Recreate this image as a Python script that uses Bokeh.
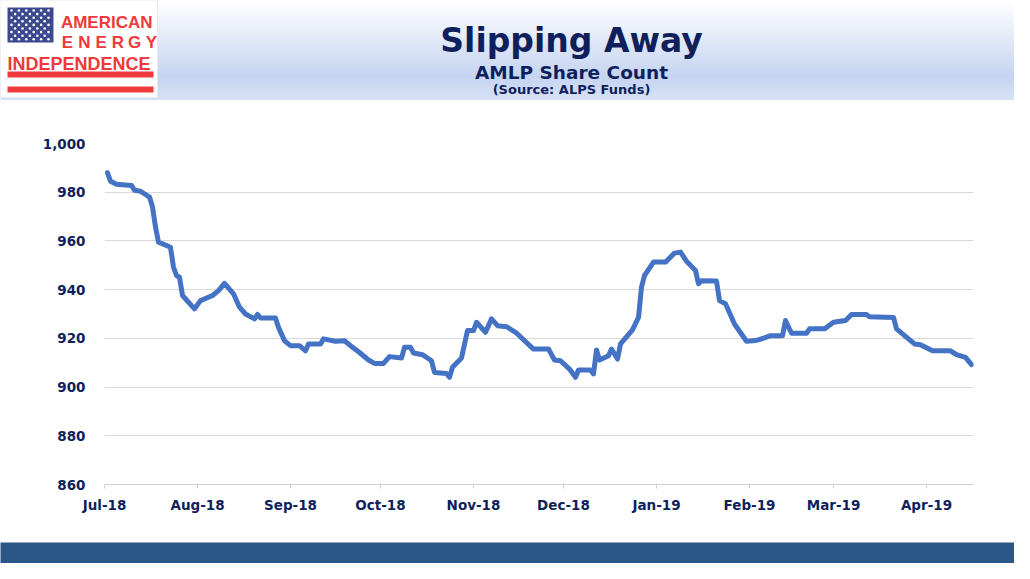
import numpy as np
import pandas as pd
from bokeh.plotting import figure
from bokeh.models import Range1d, NumeralTickFormatter, DatetimeTickFormatter, MonthsTicker, FixedTicker, ColumnDataSource
from bokeh.layouts import column
from bokeh.embed import file_html
from bokeh.resources import INLINE
from bokeh.core.properties import value

# ---------------- data ----------------
dates = [
    "2018-07-02", "2018-07-03", "2018-07-05", "2018-07-10", "2018-07-11", "2018-07-13",
    "2018-07-16", "2018-07-17", "2018-07-18", "2018-07-19", "2018-07-23", "2018-07-24",
    "2018-07-25", "2018-07-26", "2018-07-27", "2018-07-31", "2018-08-02", "2018-08-06",
    "2018-08-08", "2018-08-10", "2018-08-13", "2018-08-15", "2018-08-17", "2018-08-20",
    "2018-08-21", "2018-08-22", "2018-08-27", "2018-08-28", "2018-08-30", "2018-09-01",
    "2018-09-04", "2018-09-06", "2018-09-07", "2018-09-11", "2018-09-12", "2018-09-16",
    "2018-09-19", "2018-09-21", "2018-09-24", "2018-09-27", "2018-09-29", "2018-10-02",
    "2018-10-04", "2018-10-08", "2018-10-09", "2018-10-11", "2018-10-12", "2018-10-15",
    "2018-10-18", "2018-10-19", "2018-10-23", "2018-10-24", "2018-10-25", "2018-10-28",
    "2018-10-30", "2018-11-01", "2018-11-02", "2018-11-05", "2018-11-07", "2018-11-09",
    "2018-11-12", "2018-11-15", "2018-11-16", "2018-11-21", "2018-11-26", "2018-11-28",
    "2018-11-30", "2018-12-03", "2018-12-05", "2018-12-06", "2018-12-10", "2018-12-11",
    "2018-12-12", "2018-12-13", "2018-12-16", "2018-12-17", "2018-12-19", "2018-12-20",
    "2018-12-24", "2018-12-26", "2018-12-27", "2018-12-28", "2018-12-31", "2019-01-04",
    "2019-01-07", "2019-01-09", "2019-01-11", "2019-01-14", "2019-01-15", "2019-01-16",
    "2019-01-21", "2019-01-22", "2019-01-24", "2019-01-27", "2019-01-31", "2019-02-03",
    "2019-02-06", "2019-02-08", "2019-02-12", "2019-02-13", "2019-02-15", "2019-02-20",
    "2019-02-21", "2019-02-26", "2019-03-01", "2019-03-05", "2019-03-07", "2019-03-12",
    "2019-03-13", "2019-03-21", "2019-03-22", "2019-03-28", "2019-03-30", "2019-04-03",
    "2019-04-09", "2019-04-11", "2019-04-14", "2019-04-16",
]
shares = [
    988.0, 984.5, 983.3, 982.8, 980.8, 980.4,
    978.0, 974.0, 965.7, 959.5, 957.4, 949.2,
    945.8, 945.1, 937.6, 932.1, 935.5, 937.6,
    939.6, 942.6, 938.3, 932.8, 930.0, 928.0,
    929.8, 928.4, 928.4, 924.5, 919.0, 917.0,
    917.0, 914.9, 917.7, 917.7, 919.8, 918.8,
    919.0, 917.0, 914.2, 911.1, 909.7, 909.7,
    912.5, 911.9, 916.3, 916.3, 914.0, 913.3,
    910.8, 906.0, 905.6, 904.0, 908.1, 911.9,
    923.2, 923.2, 926.6, 922.5, 928.0, 925.2,
    924.8, 922.5, 921.4, 915.6, 915.6, 911.1,
    910.8, 907.4, 904.0, 907.0, 907.0, 905.4,
    915.2, 911.1, 912.9, 915.6, 911.5, 917.7,
    923.5, 928.6, 941.0, 945.8, 951.3, 951.3,
    955.0, 955.4, 951.7, 947.9, 942.4, 943.7,
    943.5, 935.5, 934.2, 925.9, 918.8, 919.1,
    920.2, 921.1, 921.1, 927.3, 922.1, 922.1,
    923.9, 923.9, 926.6, 927.3, 929.8, 929.8,
    928.9, 928.6, 923.9, 917.7, 917.4, 914.9,
    914.9, 913.3, 912.2, 909.2,
]
y_ticks = [860, 880, 900, 920, 940, 960, 980, 1000]
x_start = "2018-07-01"
x_end = "2019-04-16 16:00"
title_text = "Slipping Away"
subtitle_text = "AMLP Share Count"
source_text = "(Source: ALPS Funds)"
logo_lines = ["AMERICAN", "ENERGY", "INDEPENDENCE"]

NAVY = "#0f1f5c"
LINE_BLUE = "#4472c4"
BAR_BLUE = "#2a5785"
RED = "#ee3a3a"
FONT = value("DejaVu Sans")

W = 1014
EXTRA = {"frame_align": False} if "frame_align" in figure.properties() else {}

# ---------------- header ----------------
H_HEAD = 100
head = figure(width=W, height=H_HEAD, x_range=Range1d(0, W), y_range=Range1d(H_HEAD, 0),
              toolbar_location=None, output_backend="svg", min_border=0,
              x_axis_location=None, y_axis_location=None, outline_line_color=None, **EXTRA)
head.grid.visible = False
head.background_fill_color = "white"
head.border_fill_color = "white"

rows = np.arange(0, H_HEAD)
def grad(yy):
    if yy <= 76:
        t = yy / 76.0
        c0, c1 = np.array([255, 255, 255]), np.array([178, 198, 236])
    else:
        t = (yy - 76) / 24.0
        c0, c1 = np.array([178, 198, 236]), np.array([203, 217, 243])
    c = c0 + (c1 - c0) * t
    return "#%02x%02x%02x" % tuple(int(round(v)) for v in c)
head.quad(left=0, right=W, top=rows, bottom=rows + 1, fill_color=[grad(r) for r in rows],
          line_color=None)

# logo
head.quad(left=0, right=157, top=0, bottom=97, fill_color="white", line_color="#e6e9f0")
head.quad(left=7, right=53, top=7, bottom=42, fill_color="#3b4a8f", line_color=None)
sx, sy = [], []
for r in range(9):
    n = 6 if r % 2 == 0 else 5
    off = 0 if r % 2 == 0 else 3.6
    for c in range(n):
        sx.append(11 + off + c * 7.4)
        sy.append(10 + r * 3.6)
head.scatter(sx, sy, size=2.6, marker="circle", fill_color="white", line_color=None)
head.text(x=[152], y=[22], text=[logo_lines[0]], text_align="right", text_baseline="alphabetic",
          text_font=value("Liberation Sans"), text_font_style="bold", text_font_size="17px",
          text_color=RED)
letters = list(logo_lines[1])
lx = [67 + i * 16.8 for i in range(len(letters))]
head.text(x=lx, y=[42] * len(letters), text=letters, text_align="center", text_baseline="alphabetic",
          text_font=value("Liberation Sans"), text_font_style="bold", text_font_size="17px",
          text_color=RED)
head.text(x=[7], y=[63], text=[logo_lines[2]], text_align="left", text_baseline="alphabetic",
          text_font=value("Liberation Sans"), text_font_style="bold", text_font_size="18px",
          text_color=RED)
head.quad(left=7, right=153, top=71, bottom=77, fill_color=RED, line_color=None)
head.quad(left=7, right=153, top=86, bottom=92, fill_color=RED, line_color=None)

# titles
head.text(x=[571], y=[40], text=[title_text], text_align="center", text_baseline="alphabetic",
          text_font=FONT, text_font_style="bold", text_font_size="33px", text_color=NAVY)
head.text(x=[571], y=[72], text=[subtitle_text], text_align="center", text_baseline="alphabetic",
          text_font=FONT, text_font_style="bold", text_font_size="18.5px", text_color=NAVY)
head.text(x=[571], y=[89], text=[source_text], text_align="center", text_baseline="alphabetic",
          text_font=FONT, text_font_style="bold", text_font_size="13px", text_color=NAVY)

# ---------------- main chart ----------------
H_MAIN = 442
src = ColumnDataSource(dict(date=pd.to_datetime(dates), shares=shares))
p = figure(width=W, height=H_MAIN, x_axis_type="datetime",
           x_range=Range1d(pd.Timestamp(x_start), pd.Timestamp(x_end)),
           y_range=Range1d(860, 1000),
           toolbar_location=None, output_backend="svg",
           min_border_left=104, min_border_right=41, min_border_top=43, min_border_bottom=58,
           **EXTRA)
p.outline_line_color = None
p.background_fill_color = "white"
p.border_fill_color = "white"

p.line(x="date", y="shares", source=src, line_color=LINE_BLUE, line_width=5,
       line_join="round", line_cap="round")

p.yaxis.ticker = FixedTicker(ticks=y_ticks)
p.yaxis.formatter = NumeralTickFormatter(format="0,0")
p.yaxis.axis_line_color = None
p.yaxis.major_tick_line_color = None
p.yaxis.minor_tick_line_color = None
p.yaxis.major_label_standoff = 13
p.ygrid.grid_line_color = "#d9d9d9"
p.ygrid.grid_line_width = 1
p.ygrid.ticker = FixedTicker(ticks=y_ticks)

p.xaxis.ticker = MonthsTicker(months=list(range(12)))
p.xaxis.formatter = DatetimeTickFormatter(days="%b-%y", months="%b-%y", years="%b-%y")
p.xaxis.axis_line_color = "#d0d0d0"
p.xaxis.major_tick_line_color = "#d0d0d0"
p.xaxis.major_tick_in = 0
p.xaxis.major_tick_out = 4
p.xaxis.minor_tick_line_color = None
p.xaxis.major_label_standoff = 8
p.xgrid.visible = False

for ax in (p.xaxis, p.yaxis):
    ax.major_label_text_font = "DejaVu Sans"
    ax.major_label_text_font_style = "bold"
    ax.major_label_text_font_size = "13.5px"
    ax.major_label_text_color = NAVY

# ---------------- footer ----------------
foot = figure(width=W, height=21, toolbar_location=None, output_backend="svg", min_border=0,
              x_axis_location=None, y_axis_location=None, outline_line_color=None, **EXTRA)
foot.grid.visible = False
foot.background_fill_color = BAR_BLUE
foot.border_fill_color = BAR_BLUE

layout = column(head, p, foot, spacing=0)
open("out.html", "w").write(file_html(layout, INLINE))
